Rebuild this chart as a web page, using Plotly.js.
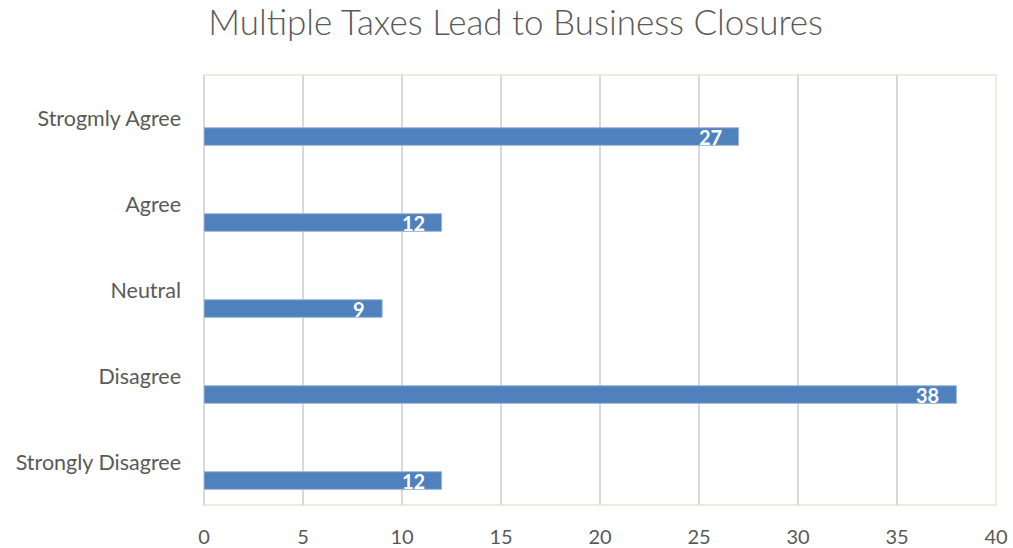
<!DOCTYPE html>
<html>
<head>
<meta charset="utf-8">
<script src="https://cdn.plot.ly/plotly-3.0.1.min.js"></script>
<style>html,body{margin:0;padding:0;background:#fff;}#chart{width:1013px;height:548px;}</style>
</head>
<body>
<div id="chart"></div>
<script>
const categories = ["Strogmly Agree", "Agree", "Neutral", "Disagree", "Strongly Disagree"];
const values = [27, 12, 9, 38, 12];
const xTicks = [0, 5, 10, 15, 20, 25, 30, 35, 40];
const chartTitle = "Multiple Taxes Lead to Business Closures";

const barWidth = 0.205, barOffset = 0.113;

const trace = {
  type: 'bar',
  orientation: 'h',
  x: values,
  y: categories,
  width: barWidth,
  offset: barOffset,
  marker: {color: '#4F81BD', line: {color: '#9DB7DA', width: 1}},
  textposition: 'none',
  hoverinfo: 'none'
};

const annotations = values.map((v, i) => ({
  x: v, y: categories[i], xref: 'x', yref: 'y',
  text: String(v), showarrow: false,
  xanchor: 'right', yanchor: 'middle',
  xshift: -15, yshift: -(barOffset + barWidth / 2) * 86,
  font: {family: 'Lato, sans-serif', size: 20, color: '#ffffff', weight: 'bold'}
}));

const layout = {
  width: 1013, height: 548,
  margin: {l: 204, r: 17, t: 75, b: 43},
  paper_bgcolor: '#ffffff', plot_bgcolor: '#ffffff',
  showlegend: false,
  title: {text: chartTitle, x: 0.509, xanchor: 'center', y: 0.958, yanchor: 'middle',
          font: {family: 'Lato, sans-serif', size: 35, color: '#595959', weight: 300}},
  xaxis: {
    range: [0, 40], tickvals: xTicks, ticktext: xTicks.map(String),
    showgrid: true, gridcolor: '#D9D9D9', gridwidth: 2,
    zeroline: true, zerolinecolor: '#D9D9D9', zerolinewidth: 2,
    showline: false, ticks: '', ticklabelstandoff: 18,
    tickfont: {family: 'Lato, sans-serif', size: 20, color: '#595959'},
    fixedrange: true
  },
  yaxis: {
    type: 'category', autorange: 'reversed',
    showgrid: false, zeroline: false, showline: false, ticks: '',
    ticklabelstandoff: 22,
    tickfont: {family: 'Lato, sans-serif', size: 21.5, color: '#595959'},
    fixedrange: true
  },
  annotations: annotations,
  shapes: [{type: 'rect', xref: 'paper', yref: 'paper', x0: 0, x1: 1, y0: 0, y1: 1,
            line: {color: '#EEECE1', width: 2}, layer: 'below'}]
};

Plotly.newPlot('chart', [trace], layout, {displayModeBar: false, staticPlot: true});
</script>
</body>
</html>
